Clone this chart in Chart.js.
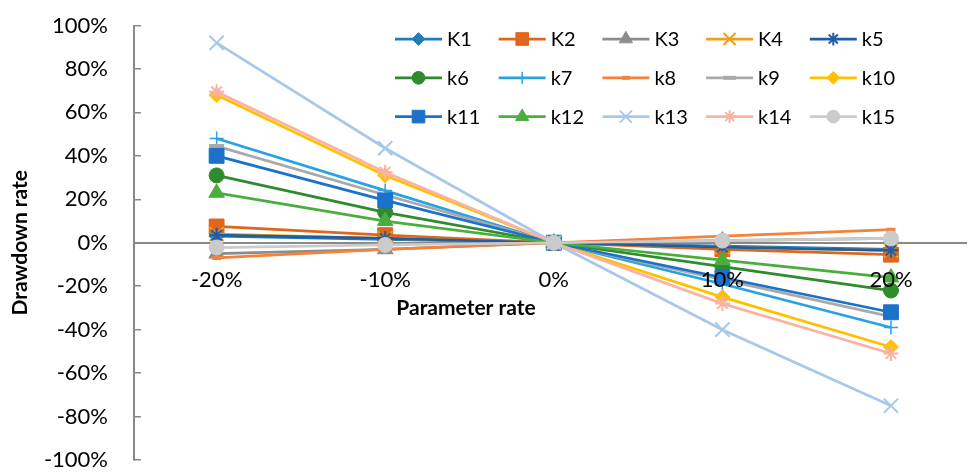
<!DOCTYPE html>
<html><head><meta charset="utf-8">
<script src="https://cdn.jsdelivr.net/npm/chart.js@4.4.0/dist/chart.umd.min.js"></script>
<style>html,body{margin:0;padding:0;background:#fff;overflow:hidden}#wrap{position:relative;width:978px;height:472px}</style>
</head><body><div id="wrap"><canvas id="c"></canvas></div>
<script>
// ---- data ----
const categories = [-20, -10, 0, 10, 20];          // parameter rate (%)
const yTickValues = [-100, -80, -60, -40, -20, 0, 20, 40, 60, 80, 100];
const seriesNames = ['K1','K2','K3','K4','k5','k6','k7','k8','k9','k10','k11','k12','k13','k14','k15'];
const K1  = [3, 1.5, 0, -1.5, -3];
const K2  = [7.5, 3.5, 0, -3, -5.5];
const K3  = [-5, -3, 0, 1, 2];
const K4  = [4, 2, 0, -2, -3.5];
const k5  = [3.5, 2, 0, -2, -3.5];
const k6  = [31, 14, 0, -11, -22];
const k7  = [48, 24, 0, -19, -39];
const k8  = [-7, -3, 0, 3, 6];
const k9  = [44.5, 22, 0, -17, -34];
const k10 = [68, 31, 0, -25, -48];
const k11 = [40, 19.5, 0, -16, -32];
const k12 = [23, 10, 0, -8, -16];
const k13 = [92, 43.5, 0, -40, -75];
const k14 = [69.5, 32.5, 0, -28, -51];
const k15 = [-2.2, -1, 0, 1, 2];
const seriesValues = [K1,K2,K3,K4,k5,k6,k7,k8,k9,k10,k11,k12,k13,k14,k15];
const xTitle = 'Parameter rate';
const yTitle = 'Drawdown rate';

// ---- styles ----
const seriesStyles = [
  {c:'#1F7DB8', s:'rectRot',  r:7.5, bw:1},
  {c:'#E0661B', s:'rect',     r:10.5, bw:1},
  {c:'#8C8C8C', s:'triangle', r:9, bw:1},
  {c:'#E9A21A', s:'crossRot', r:10, bw:2},
  {c:'#1F5DA4', s:'star',     r:7.5, bw:2},
  {c:'#2E8B2E', s:'circle',   r:7.5, bw:1},
  {c:'#2AA1E0', s:'cross',    r:7, bw:1.5},
  {c:'#F5823A', s:'line',     r:4.5, bw:4},
  {c:'#A9A9A9', s:'line',     r:7.5, bw:4},
  {c:'#FFC000', s:'rectRot',  r:7.5, bw:1},
  {c:'#1C71CA', s:'rect',     r:10.5, bw:1},
  {c:'#4AAE3F', s:'triangle', r:9, bw:1},
  {c:'#A8C8EA', s:'crossRot', r:10, bw:2},
  {c:'#F9B3A3', s:'star',     r:7.5, bw:2},
  {c:'#CBCBCB', s:'circle',   r:7.5, bw:1}
];

Chart.defaults.font.family = 'Lato, "Liberation Sans", sans-serif';
Chart.defaults.color = '#000';

const datasets = seriesNames.map((name, i) => {
  const st = seriesStyles[i];
  return {
    label: name,
    data: categories.map((x, j) => ({x: x, y: seriesValues[i][j]})),
    borderColor: st.c, backgroundColor: st.c,
    borderWidth: 2.75,
    pointStyle: st.s, pointRadius: st.r, pointHoverRadius: st.r,
    pointBackgroundColor: st.c, pointBorderColor: st.c, pointBorderWidth: st.bw,
    tension: 0, order: -i
  };
});

const gridLegend = {
  id: 'gridLegend',
  afterDraw(chart) {
    const ctx = chart.ctx;
    chart.data.datasets.forEach((ds, i) => {
      const col = i % 5, row = Math.floor(i / 5);
      const x0 = 395 + col * 103.7, y = 39 + row * 38.8;
      ctx.save();
      ctx.strokeStyle = ds.borderColor; ctx.lineWidth = ds.borderWidth;
      ctx.beginPath(); ctx.moveTo(x0, y); ctx.lineTo(x0 + 47, y); ctx.stroke();
      ctx.fillStyle = ds.pointBackgroundColor; ctx.strokeStyle = ds.pointBorderColor;
      ctx.lineWidth = ds.pointBorderWidth;
      Chart.helpers.drawPoint(ctx, {pointStyle: ds.pointStyle, radius: ds.pointRadius * 0.85, rotation: 0, borderWidth: ds.pointBorderWidth}, x0 + 23.5, y);
      ctx.fillStyle = '#000'; ctx.font = '20px Lato'; ctx.textBaseline = 'middle'; ctx.textAlign = 'left';
      ctx.fillText(ds.label, x0 + 52, y + 1);
      ctx.restore();
    });
  }
};

const xAxisTitle = {
  id: 'xAxisTitle',
  afterDraw(chart) {
    const ctx = chart.ctx, ys = chart.scales.y;
    ctx.save();
    ctx.font = 'bold 21px Lato'; ctx.fillStyle = '#000';
    ctx.textAlign = 'center'; ctx.textBaseline = 'middle';
    ctx.fillText(xTitle, 466, ys.getPixelForValue(0) + 65);
    ctx.restore();
  }
};

new Chart(document.getElementById('c'), {
  type: 'line',
  data: { datasets },
  plugins: [gridLegend, xAxisTitle],
  options: {
    responsive: true, maintainAspectRatio: false, animation: false,
    layout: { padding: { top: 25.5, bottom: 8.5, left: 0, right: 0 } },
    plugins: { legend: { display: false }, tooltip: { enabled: false } },
    scales: {
      x: {
        type: 'linear', position: { y: 0 }, min: -24.9, max: 24.45,
        grid: { display: false, drawTicks: false },
        border: { display: true, color: '#898989', width: 2 },
        ticks: { z: 1, stepSize: 10, includeBounds: false, padding: 24,
          font: { size: 22 },
          callback: v => categories.includes(v) ? v + '%' : '' },
        title: { display: false },
        afterFit: s => { s.paddingLeft = 0; s.paddingRight = 0; }
      },
      y: {
        min: -100, max: 100,
        afterBuildTicks: s => { s.ticks = yTickValues.map(v => ({value: v})); },
        grid: { display: true, drawOnChartArea: false, drawTicks: true, tickLength: -7, color: '#898989', lineWidth: 1.5 },
        border: { display: true, color: '#898989', width: 2 },
        ticks: { padding: 33, font: { size: 22 }, callback: v => v + '%' },
        title: { display: true, text: yTitle, font: { size: 21, weight: 'bold' }, padding: { top: 8, bottom: 0 } },
        afterFit: s => { s.width = 134; s.paddingTop = 0; s.paddingBottom = 0; }
      }
    }
  }
});
</script>
</body></html>
